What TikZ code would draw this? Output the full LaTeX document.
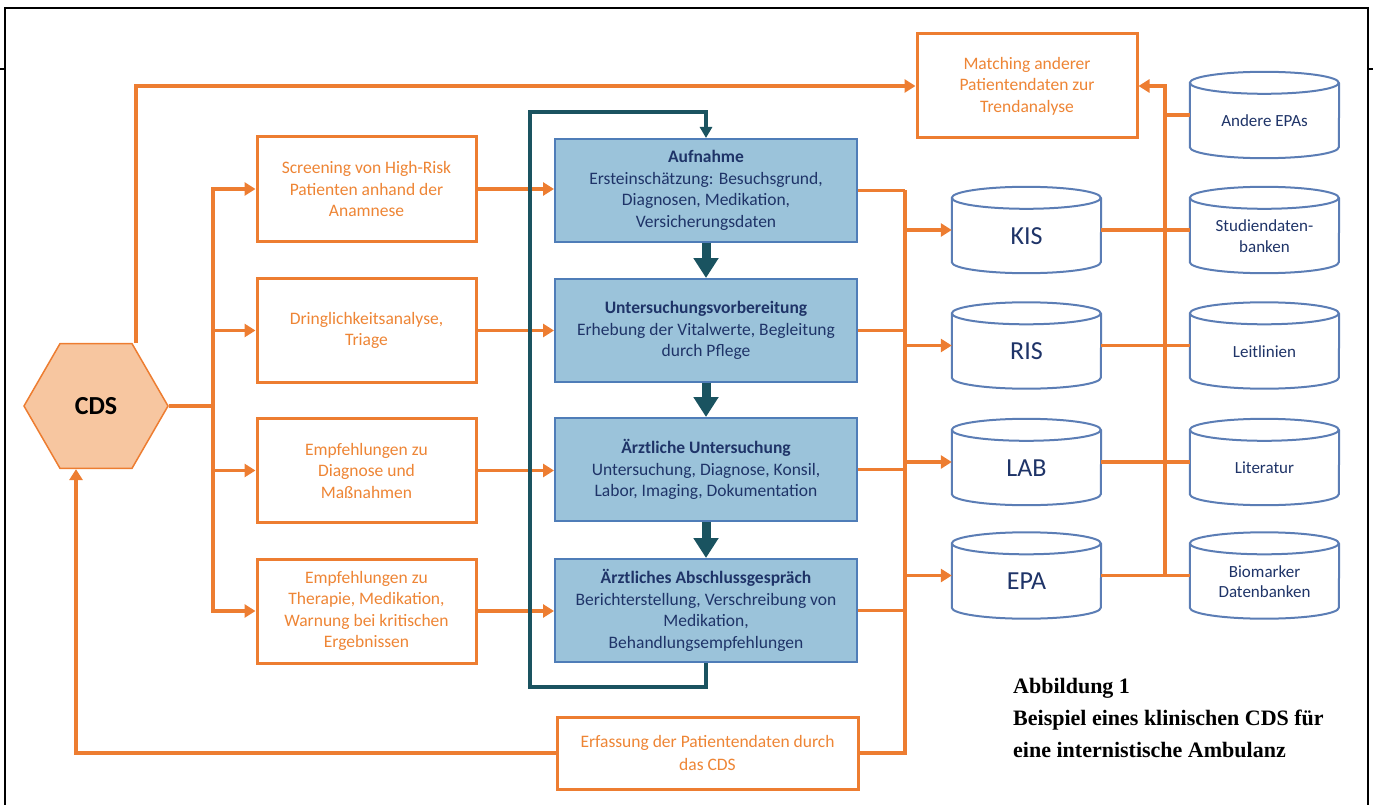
\documentclass[tikz,border=0pt]{standalone}
\usepackage{fontspec}
\setmainfont{Carlito}
\newfontfamily\capfont{Liberation Serif}
\usetikzlibrary{arrows.meta,shapes.geometric,calc}
\definecolor{lorange}{HTML}{ED7D31}
\definecolor{otext}{HTML}{EE8535}
\definecolor{hexfill}{HTML}{F7C6A0}
\definecolor{bfill}{HTML}{9BC3DA}
\definecolor{bborder}{HTML}{4F7DB8}
\definecolor{navy}{HTML}{1F3468}
\definecolor{tealdark}{HTML}{1A5360}
\definecolor{cylstroke}{HTML}{5B7DB5}
\newcommand\dbcyl[5]{%
  \node[cylnode] (#1) at (#2,#3) {};
  \draw[cylline] ([yshift=-11pt]#1.north west)
    arc[start angle=180,end angle=360,x radius=74.5pt,y radius=11pt]
    arc[start angle=0,end angle=180,x radius=74.5pt,y radius=11pt]
    -- ([yshift=11pt]#1.south west)
    arc[start angle=180,end angle=360,x radius=74.5pt,y radius=11pt]
    -- ([yshift=-11pt]#1.north east);
  \node[cyltext,#4] (#1t) at ([yshift=-6pt]#1.center) {#5};
}
\begin{document}
\begin{tikzpicture}[x=1pt,y=-1pt,
  obox/.style={draw=lorange, line width=3pt, fill=white, text=otext, align=center,
    minimum width=219pt, minimum height=104pt, inner sep=2pt,
    font=\fontsize{17.5}{21.5}\selectfont},
  bbox/.style={draw=bborder, line width=2pt, fill=bfill, text=navy, align=center,
    minimum width=302pt, minimum height=103pt, inner sep=2pt,
    font=\fontsize{17.5}{21.7}\selectfont},
  oline/.style={draw=lorange, line width=3.6pt},
  oarrow/.style={oline, -{Triangle[length=11pt,width=13pt]}},
  tline/.style={draw=tealdark, line width=3.2pt},
  tarrow/.style={tline, -{Triangle[length=11pt,width=12pt]}},
  tbig/.style={draw=tealdark, line width=9pt, -{Triangle[length=20pt,width=24pt]}},
  cylnode/.style={minimum width=149pt, minimum height=86pt, inner sep=0pt},
  cylline/.style={draw=cylstroke, line width=2pt, fill=white},
  cyltext/.style={text=navy, align=center, inner sep=1pt},
  bigcyl/.style={font=\fontsize{26}{28}\selectfont},
  smallcyl/.style={font=\fontsize{17}{20.5}\selectfont},
  framel/.style={draw=black, line width=2.5pt},
  captext/.style={anchor=base west, inner sep=0pt, font=\capfont\bfseries\fontsize{22}{32}\selectfont}
]
\useasboundingbox (0,0) rectangle (1373,805);
% frame
\draw[framel] (5,805) -- (5,8) -- (1368,8) -- (1368,805);
\draw[framel] (0,69) -- (5,69);
\draw[framel] (1368,69) -- (1373,69);

% CDS hexagon
\node[regular polygon, regular polygon sides=6, minimum size=144pt, inner sep=0pt,
  draw=lorange, line width=1.5pt, fill=hexfill,
  font=\bfseries\fontsize{26}{30}\selectfont] (cds) at (96,406) {CDS};

% left orange boxes
\node[obox] (scr) at (366.5,189) {Screening von High-Risk\\Patienten anhand der\\Anamnese};
\node[obox] (dri) at (366.5,330.5) {Dringlichkeitsanalyse,\\Triage};
\node[obox] (emd) at (366.5,470.5) {Empfehlungen zu\\Diagnose und\\Maßnahmen};
\node[obox] (emt) at (366.5,611) {Empfehlungen zu\\Therapie, Medikation,\\Warnung bei kritischen\\Ergebnissen};

% blue process boxes
\node[bbox] (auf) at (706,190.5) {\textbf{Aufnahme}\\Ersteinschätzung: Besuchsgrund,\\Diagnosen, Medikation,\\Versicherungsdaten};
\node[bbox] (uvb) at (706,330.5) {\textbf{Untersuchungsvorbereitung}\\Erhebung der Vitalwerte, Begleitung\\durch Pflege};
\node[bbox] (aeu) at (706,469.5) {\textbf{Ärztliche Untersuchung}\\Untersuchung, Diagnose, Konsil,\\Labor, Imaging, Dokumentation};
\node[bbox] (abs) at (706,610.5) {\textbf{Ärztliches Abschlussgespräch}\\Berichterstellung, Verschreibung von\\Medikation,\\Behandlungsempfehlungen};

% matching & erfassung
\node[obox, minimum width=220pt] (mat) at (1027,86) {Matching anderer\\Patientendaten zur\\Trendanalyse};
\node[obox, minimum width=301pt, minimum height=72pt, font=\fontsize{17.5}{23}\selectfont] (erf) at (707.5,753) {Erfassung der Patientendaten durch\\das CDS};

% cylinders
\dbcyl{kis}{1026.5}{230}{bigcyl}{KIS}
\dbcyl{ris}{1026.5}{345.5}{bigcyl}{RIS}
\dbcyl{lab}{1026.5}{462}{bigcyl}{LAB}
\dbcyl{epa}{1026.5}{575.5}{bigcyl}{EPA}
\dbcyl{and}{1264.5}{115}{smallcyl}{Andere EPAs}
\dbcyl{stu}{1264.5}{230}{smallcyl}{Studiendaten-\\banken}
\dbcyl{lei}{1264.5}{345.5}{smallcyl}{Leitlinien}
\dbcyl{lit}{1264.5}{462}{smallcyl}{Literatur}
\dbcyl{bio}{1264.5}{575.5}{smallcyl}{Biomarker\\Datenbanken}

% helper coordinates
\coordinate (br) at (213,406);
\coordinate (busa) at (905,190);
\coordinate (busb) at (905,753);
\coordinate (busc) at (1165,577);
\coordinate (lpbl) at (530,687);
\coordinate (lptl) at (530,112);

% CDS outputs
\draw[oarrow] ([xshift=40pt]cds.north) |- (mat.west);
\draw[oline] (cds.east) -- (br);
\draw[oarrow] (br) |- (scr.west);
\draw[oarrow] (br) |- (dri.west);
\draw[oarrow] (br) |- (emd.west);
\draw[oarrow] (br) |- (emt.west);

% left boxes -> process
\draw[oarrow] (scr.east) -- (scr.east -| auf.west);
\draw[oarrow] (dri.east) -- (dri.east -| uvb.west);
\draw[oarrow] (emd.east) -- (emd.east -| aeu.west);
\draw[oarrow] (emt.east) -- (emt.east -| abs.west);

% process -> bus
\draw[oline] (auf.east) -- (auf.east -| busa);
\draw[oline] (uvb.east) -- (uvb.east -| busa);
\draw[oline] (aeu.east) -- (aeu.east -| busa);
\draw[oline] (abs.east) -- (abs.east -| busa);
\draw[oline] (busa |- auf.east) -- (busb) -- (erf.east);
\draw[oarrow] (erf.west) -| ([xshift=-20pt]cds.south);

% bus -> databases
\draw[oarrow] (kis.west -| busa) -- (kis.west);
\draw[oarrow] (ris.west -| busa) -- (ris.west);
\draw[oarrow] (lab.west -| busa) -- (lab.west);
\draw[oarrow] (epa.west -| busa) -- (epa.west);

% databases -> right bus -> matching
\draw[oline] (kis.east) -- (stu.west);
\draw[oline] (ris.east) -- (lei.west);
\draw[oline] (lab.east) -- (lit.west);
\draw[oline] (epa.east) -- (bio.west);
\draw[oline] (and.west) -- (and.west -| busc);
\draw[oarrow] (busc |- epa.east) |- (mat.east);

% process flow (teal)
\draw[tbig] (auf.south) -- (uvb.north);
\draw[tbig] (uvb.south) -- (aeu.north);
\draw[tbig] (aeu.south) -- (abs.north);
\draw[tarrow] (abs.south) |- (lpbl) -- (lptl) -| (auf.north);

% caption
\node[captext] (cap1) at (1013,693) {Abbildung 1};
\node[captext] (cap2) at (1013,725) {Beispiel eines klinischen CDS für};
\node[captext] (cap3) at (1013,757) {eine internistische Ambulanz};
\end{tikzpicture}
\end{document}
